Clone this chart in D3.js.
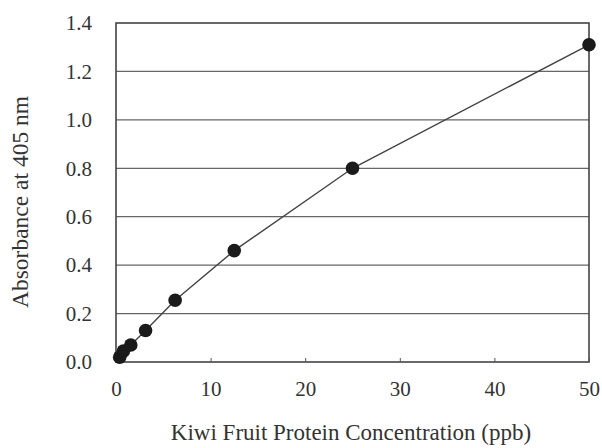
<!DOCTYPE html>
<html><head><meta charset="utf-8">
<script src="https://cdn.jsdelivr.net/npm/d3@7"></script>
<style>
html,body{margin:0;padding:0;background:#fff;}
svg{display:block;}
text{font-family:"Liberation Serif","DejaVu Serif",serif;fill:#333;}
</style></head>
<body>
<svg id="c" width="602" height="448"></svg>
<script>
const concentration = [0.39, 0.78, 1.5625, 3.125, 6.25, 12.5, 25, 50];
const absorbance = [0.02, 0.045, 0.07, 0.13, 0.255, 0.46, 0.80, 1.31];
const xTicks = [0, 10, 20, 30, 40, 50];
const yTicks = [0, 0.2, 0.4, 0.6, 0.8, 1.0, 1.2, 1.4];
const xTitle = "Kiwi Fruit Protein Concentration (ppb)";
const yTitle = "Absorbance at 405 nm";

const m = {left:116, top:23, right:589, bottom:362};
const svg = d3.select("#c");
const x = d3.scaleLinear().domain([0,50]).range([m.left, m.right]);
const y = d3.scaleLinear().domain([0,1.4]).range([m.bottom, m.top]);

// gridlines
svg.append("g").selectAll("line").data(yTicks.slice(1,-1)).join("line")
  .attr("x1", m.left).attr("x2", m.right)
  .attr("y1", d=>y(d)).attr("y2", d=>y(d))
  .attr("stroke","#666").attr("stroke-width",1.2);

// frame
svg.append("rect").attr("x",m.left).attr("y",m.top)
  .attr("width",m.right-m.left).attr("height",m.bottom-m.top)
  .attr("fill","none").attr("stroke","#444").attr("stroke-width",1.6);

// x axis
const xa = svg.append("g").attr("transform",`translate(0,${m.bottom})`)
  .call(d3.axisBottom(x).tickValues(xTicks).tickSizeInner(-4).tickSizeOuter(0).tickPadding(19).tickFormat(d3.format("d")));
xa.select(".domain").remove();
xa.selectAll("line").attr("stroke","#555");
xa.selectAll("text").attr("font-size",21).attr("fill","#3a3a3a");

// y axis
const ya = svg.append("g").attr("transform",`translate(${m.left},0)`)
  .call(d3.axisLeft(y).tickValues(yTicks).tickSize(0).tickPadding(24).tickFormat(d3.format(".1f")));
ya.select(".domain").remove();
ya.selectAll("text").attr("font-size",21).attr("fill","#3a3a3a");

// line
const line = d3.line().x((d,i)=>x(concentration[i])).y(d=>y(d)).curve(d3.curveLinear);
svg.append("path").attr("d", line(absorbance))
  .attr("fill","none").attr("stroke","#444").attr("stroke-width",1.4);

// points
svg.append("g").selectAll("circle").data(absorbance).join("circle")
  .attr("cx",(d,i)=>x(concentration[i])).attr("cy",d=>y(d)).attr("r",6.8)
  .attr("fill","#1a1a1a");

// titles
svg.append("text").attr("x",351).attr("y",440)
  .attr("text-anchor","middle").attr("font-size",23).attr("fill","#3a3a3a").text(xTitle);
svg.append("text").attr("transform",`translate(28,202) rotate(-90)`)
  .attr("text-anchor","middle").attr("font-size",23.5).attr("fill","#3a3a3a").text(yTitle);
</script>
</body></html>
